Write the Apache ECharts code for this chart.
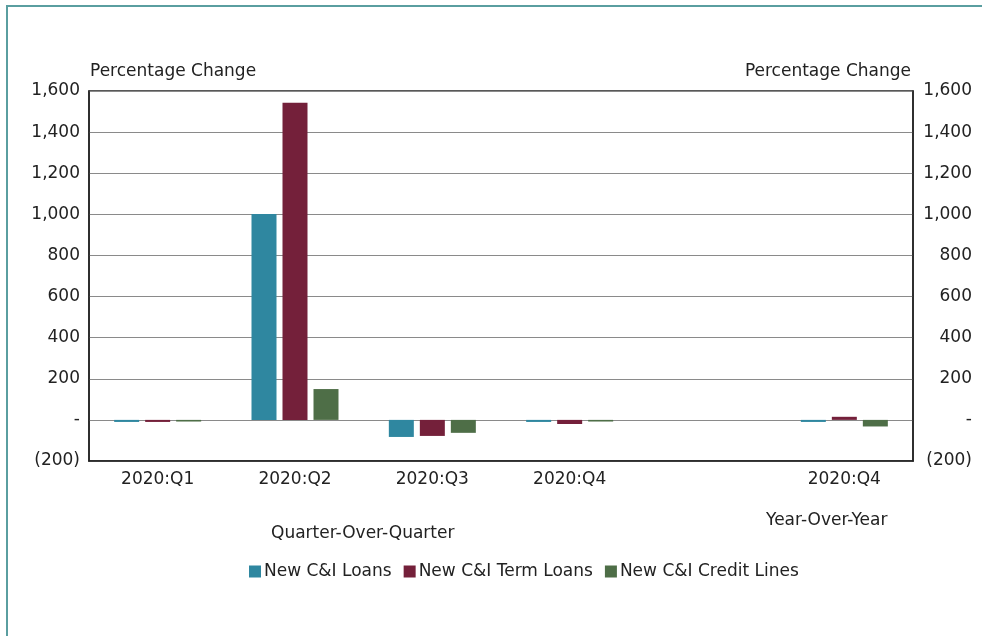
<!DOCTYPE html>
<html>
<head>
<meta charset="utf-8">
<script src="https://cdn.jsdelivr.net/npm/echarts@6/dist/echarts.min.js"></script>
<style>
html,body{margin:0;padding:0;background:#fff;}
#c{width:982px;height:636px;}
</style>
</head>
<body>
<div id="c"></div>
<script>
const categories = ['2020:Q1', '2020:Q2', '2020:Q3', '2020:Q4', '', '2020:Q4'];
const seriesNames = ['New C&I Loans', 'New C&I Term Loans', 'New C&I Credit Lines'];
const loans = [-10, 1002, -83, -10, null, -10];
const termLoans = [-10, 1543, -78, -20, null, 15];
const creditLines = [-8, 150, -63, -8, null, -32];
const colors = ['#2F87A0', '#74203A', '#4E6E47'];
const yTicks = {min: -200, max: 1600, interval: 200};

const FONT = 'DejaVu Sans';
const FS = 17;
function fmt(v) {
  if (v === 0) return '-';
  if (v < 0) return '(' + Math.abs(v).toLocaleString('en-US') + ')';
  return v.toLocaleString('en-US');
}

const chart = echarts.init(document.getElementById('c'), null, {renderer: 'canvas'});
const textStyle = {fontFamily: FONT, fontSize: FS, color: '#222'};
const gfont = FS + 'px "' + FONT + '"';

chart.setOption({
  animation: false,
  textStyle: textStyle,
  grid: {left: 89, right: 69, top: 91, bottom: 175, show: true, borderColor: '#222', borderWidth: 1.5, backgroundColor: 'transparent'},
  legend: {
    data: seriesNames,
    left: 244, top: 558,
    itemWidth: 12, itemHeight: 12, itemGap: 12,
    icon: 'rect',
    textStyle: {fontFamily: FONT, fontSize: FS, color: '#222', padding: [0, 0, 0, -2]}
  },
  xAxis: {
    type: 'category', data: categories,
    axisLine: {show: true, onZero: false, lineStyle: {color: '#222', width: 1.5}},
    axisTick: {show: false},
    axisLabel: {fontFamily: FONT, fontSize: FS, color: '#222', margin: 10, interval: 0}
  },
  yAxis: [
    {
      type: 'value', min: yTicks.min, max: yTicks.max, interval: yTicks.interval, position: 'left',
      axisLine: {show: true, lineStyle: {color: '#222', width: 1.5}},
      axisTick: {show: false},
      splitLine: {show: true, lineStyle: {color: '#8a8a8a', width: 1}},
      axisLabel: {fontFamily: FONT, fontSize: FS, color: '#222', margin: 9, formatter: fmt}
    },
    {
      type: 'value', min: yTicks.min, max: yTicks.max, interval: yTicks.interval, position: 'right',
      axisLine: {show: true, lineStyle: {color: '#222', width: 1.5}},
      axisTick: {show: false},
      splitLine: {show: false},
      axisLabel: {fontFamily: FONT, fontSize: FS, color: '#222', margin: 59, align: 'right', formatter: fmt}
    }
  ],
  series: [
    {name: seriesNames[0], type: 'bar', data: loans, itemStyle: {color: colors[0]}, barWidth: 25, barGap: '24%'},
    {name: seriesNames[1], type: 'bar', data: termLoans, itemStyle: {color: colors[1]}, barWidth: 25, barGap: '24%'},
    {name: seriesNames[2], type: 'bar', data: creditLines, itemStyle: {color: colors[2]}, barWidth: 25, barGap: '24%'}
  ],
  graphic: [
    {type: 'line', shape: {x1: 7, y1: 6, x2: 7, y2: 640}, style: {stroke: '#5A9EA0', lineWidth: 2}},
    {type: 'line', shape: {x1: 6, y1: 6, x2: 982, y2: 6}, style: {stroke: '#5A9EA0', lineWidth: 2}},
    {type: 'text', left: 90, top: 63, style: {text: 'Percentage Change', font: gfont, fill: '#222'}},
    {type: 'text', right: 71, top: 63, style: {text: 'Percentage Change', font: gfont, fill: '#222'}},
    {type: 'text', left: 271, top: 525, style: {text: 'Quarter-Over-Quarter', font: gfont, fill: '#222'}},
    {type: 'text', left: 766, top: 512, style: {text: 'Year-Over-Year', font: gfont, fill: '#222'}}
  ]
});
</script>
</body>
</html>
